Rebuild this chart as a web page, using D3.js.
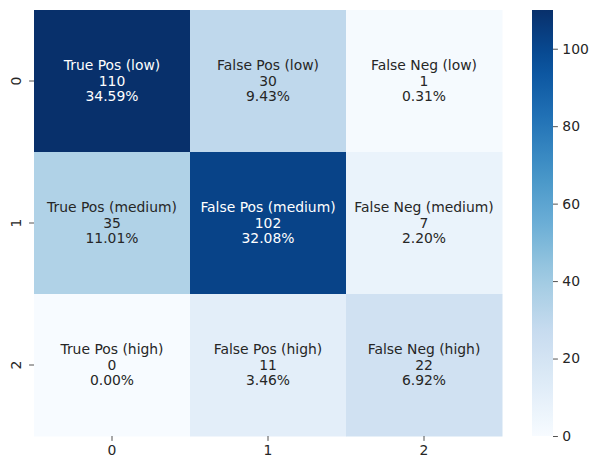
<!DOCTYPE html>
<html>
<head>
<meta charset="utf-8">
<script src="https://cdn.jsdelivr.net/npm/d3@7.9.0/dist/d3.min.js"></script>
<style>
  body { margin: 0; background: #fff; }
  svg { display: block; font-family: "DejaVu Sans", sans-serif; }
</style>
</head>
<body>
<svg id="chart" width="599" height="470"></svg>
<script>
// confusion matrix data
const rowLabels = ['0', '1', '2'];
const colLabels = ['0', '1', '2'];
const counts = [
  [110, 30, 1],
  [35, 102, 7],
  [0, 11, 22],
];
const cellNames = [
  ['True Pos (low)', 'False Pos (low)', 'False Neg (low)'],
  ['True Pos (medium)', 'False Pos (medium)', 'False Neg (medium)'],
  ['True Pos (high)', 'False Pos (high)', 'False Neg (high)'],
];
const colorbarTicks = [0, 20, 40, 60, 80, 100];

const svg = d3.select('#chart');
const plotLeft = 34, plotTop = 10, plotW = 468, plotH = 426;
const cbLeft = 532, cbWidth = 21;
const fontSize = '13.9px';
const tickLen = 4.9, tickPad = 4.4;

const total = d3.sum(counts.flat());
const vmax = d3.max(counts.flat());

// matplotlib "Blues" is linear between the ColorBrewer stops
const blues = ['#f7fbff', '#deebf7', '#c6dbef', '#9ecae1', '#6baed6', '#4292c6', '#2171b5', '#08519c', '#08306b'];
const color = d3.scaleLinear()
  .domain(blues.map((_, i) => i / (blues.length - 1) * vmax))
  .range(blues)
  .interpolate(d3.interpolateRgb);

const x = d3.scaleBand().domain(colLabels).range([plotLeft, plotLeft + plotW]);
const y = d3.scaleBand().domain(rowLabels).range([plotTop, plotTop + plotH]);

const cells = counts.flatMap((row, r) => row.map((v, c) => ({
  r, c, v, name: cellNames[r][c],
})));

function luminance(col) {
  const rgb = d3.rgb(col);
  const f = (u) => {
    u /= 255;
    return u <= 0.03928 ? u / 12.92 : Math.pow((u + 0.055) / 1.055, 2.4);
  };
  return 0.2126 * f(rgb.r) + 0.7152 * f(rgb.g) + 0.0722 * f(rgb.b);
}

svg.append('g').selectAll('rect')
  .data(cells)
  .enter()
  .append('rect')
  .attr('x', d => x(colLabels[d.c]))
  .attr('y', d => y(rowLabels[d.r]))
  .attr('width', x.bandwidth() + 0.5)
  .attr('height', y.bandwidth() + 0.5)
  .attr('fill', d => color(d.v));

const ann = svg.append('g').selectAll('text')
  .data(cells)
  .enter()
  .append('text')
  .attr('text-anchor', 'middle')
  .attr('font-size', fontSize)
  .attr('fill', d => luminance(color(d.v)) > 0.408 ? '#262626' : '#ffffff')
  .attr('transform', d => `translate(${x(colLabels[d.c]) + x.bandwidth() / 2},${y(rowLabels[d.r]) + y.bandwidth() / 2})`);

ann.each(function (d) {
  const lines = [d.name, String(d.v), (d.v / total * 100).toFixed(2) + '%'];
  const t = d3.select(this);
  lines.forEach((line, i) => {
    t.append('tspan')
      .attr('x', 0)
      .attr('y', (i - 1) * 15.8 + 4.5)
      .text(line);
  });
});

function styleAxis(g) {
  g.select('.domain').remove();
  g.attr('font-family', null).attr('font-size', null);
  g.selectAll('.tick line').attr('stroke', '#262626').attr('stroke-width', 0.8);
  g.selectAll('.tick text').attr('font-size', fontSize).attr('fill', '#262626');
}

// axes
svg.append('g')
  .attr('transform', `translate(0,${plotTop + plotH})`)
  .call(d3.axisBottom(x).tickSize(tickLen).tickPadding(tickPad))
  .call(styleAxis);

svg.append('g')
  .attr('transform', `translate(${plotLeft},0)`)
  .call(d3.axisLeft(y).tickSize(tickLen).tickPadding(tickPad))
  .call(styleAxis)
  .call(g => g.selectAll('.tick text')
    .attr('text-anchor', 'middle')
    .attr('dy', null)
    .attr('dominant-baseline', 'central')
    .attr('x', -18.5)
    .attr('transform', 'rotate(-90,-18.5,0)'));

// colorbar
const cbScale = d3.scaleLinear().domain([0, vmax]).range([plotTop + plotH, plotTop]);
const defs = svg.append('defs');
const grad = defs.append('linearGradient')
  .attr('id', 'cbgrad')
  .attr('x1', 0).attr('y1', 1).attr('x2', 0).attr('y2', 0);
d3.range(0, 1.0001, 0.05).forEach(t => {
  grad.append('stop')
    .attr('offset', t)
    .attr('stop-color', color(t * vmax));
});
svg.append('rect')
  .attr('x', cbLeft)
  .attr('y', plotTop)
  .attr('width', cbWidth)
  .attr('height', plotH)
  .attr('fill', 'url(#cbgrad)');

svg.append('g')
  .attr('transform', `translate(${cbLeft + cbWidth},0)`)
  .call(d3.axisRight(cbScale).tickValues(colorbarTicks).tickSize(tickLen).tickPadding(tickPad))
  .call(styleAxis);
</script>
</body>
</html>
